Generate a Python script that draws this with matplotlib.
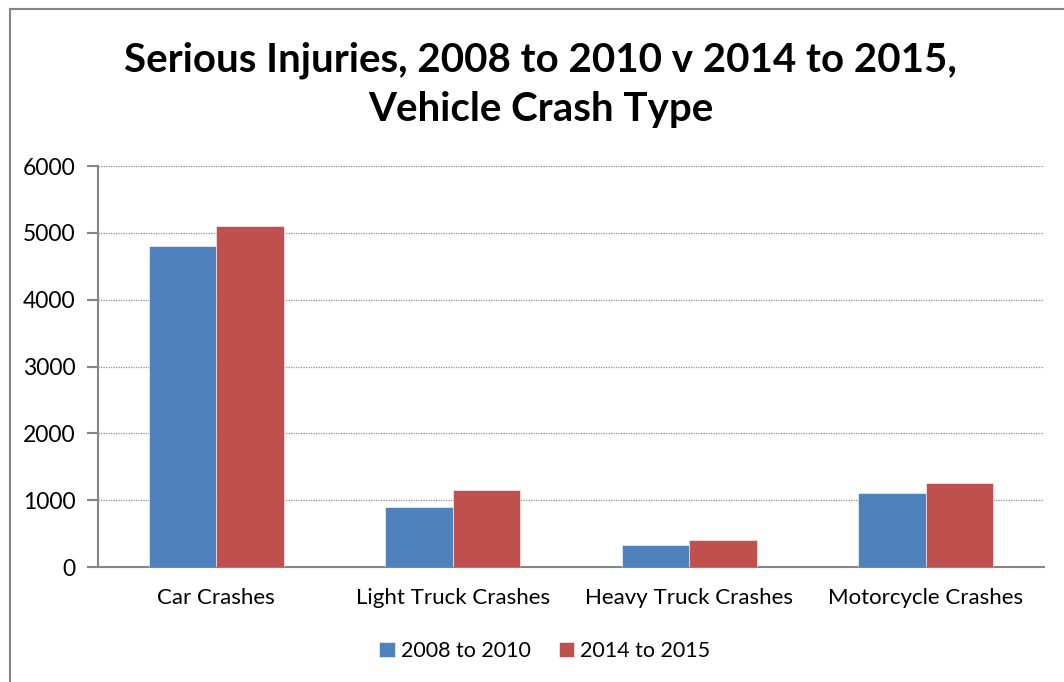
import matplotlib
matplotlib.use("Agg")
import matplotlib.pyplot as plt
import numpy as np
from matplotlib.lines import Line2D

categories = ["Car Crashes", "Light Truck Crashes", "Heavy Truck Crashes", "Motorcycle Crashes"]
series_names = ["2008 to 2010", "2014 to 2015"]
vals_2008_2010 = [4800, 895, 335, 1110]
vals_2014_2015 = [5100, 1145, 400, 1260]
y_ticks = [0, 1000, 2000, 3000, 4000, 5000, 6000]

blue = "#4F81BD"
red = "#C0504D"
axis_grey = "#868686"

plt.rcParams["font.family"] = ["Lato", "DejaVu Sans"]

W, H = 1064, 682
fig = plt.figure(figsize=(W / 100, H / 100), dpi=100)
ax = fig.add_axes([98 / W, 1 - 567 / H, (1044 - 98) / W, (567 - 166) / H])

x = np.arange(len(categories))
bw = 1 / 3.5
ax.bar(x - bw / 2, vals_2008_2010, bw, color=blue, label=series_names[0],
       edgecolor="white", linewidth=0.4, zorder=3)
ax.bar(x + bw / 2, vals_2014_2015, bw, color=red, label=series_names[1],
       edgecolor="white", linewidth=0.4, zorder=3)

ax.set_xlim(-0.5, len(categories) - 0.5)
ax.set_ylim(0, 6000)
ax.set_yticks(y_ticks)
ax.set_xticks(x)
ax.set_xticklabels(categories, fontsize=16)
ax.tick_params(axis="x", length=0, pad=15)
ax.tick_params(axis="y", length=8, width=1.5, color=axis_grey, labelsize=16.5, pad=8)

for side in ["top", "right"]:
    ax.spines[side].set_visible(False)
for side in ["left", "bottom"]:
    ax.spines[side].set_color(axis_grey)
    ax.spines[side].set_linewidth(1.5)
ax.yaxis.grid(True, linestyle=(0, (1, 1)), color="#8c8c8c", linewidth=0.9, zorder=0)
ax.set_axisbelow(True)

fig.text(0.508, 1 - 85 / H, "Serious Injuries, 2008 to 2010 v 2014 to 2015,\nVehicle Crash Type",
         ha="center", va="center", fontsize=29, fontweight="bold", linespacing=1.4)

ax.legend(loc="center", bbox_to_anchor=(545 / W, 1 - 651 / H), bbox_transform=fig.transFigure,
          ncol=2, frameon=False, fontsize=15.5, handlelength=0.7, handleheight=0.7,
          handletextpad=0.3, columnspacing=1.3)

# outer chart frame (left and top edges visible)
fig.add_artist(Line2D([10 / W, 10 / W], [0, 1 - 9 / H], transform=fig.transFigure,
                      color=axis_grey, linewidth=1.5))
fig.add_artist(Line2D([10 / W, 1], [1 - 9 / H, 1 - 9 / H], transform=fig.transFigure,
                      color=axis_grey, linewidth=1.5))

fig.savefig("out.png", dpi=100, facecolor="white")
